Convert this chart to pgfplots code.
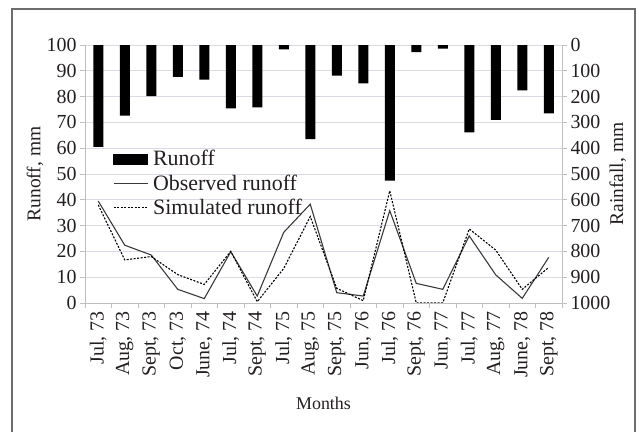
\documentclass[border=0pt]{standalone}
\usepackage{fontspec}
\setmainfont{Liberation Serif}
\usepackage{pgfplots}
\usepackage{pgfplotstable}
\pgfplotsset{compat=1.18}

\definecolor{txt}{HTML}{231F20}
\definecolor{gridc}{HTML}{D9DCE3}
\definecolor{axc}{HTML}{BFBFBF}
\definecolor{framec}{HTML}{6D6D6D}
\definecolor{obsc}{HTML}{3A3A3A}

% rainfall (mm), observed and simulated runoff (mm) per month
\pgfplotstableread{
idx rain obs  sim
0   395  39.5 38.0
1   274  22.4 16.7
2   198  18.6 18.0
3   124  5.3  11.0
4   134  1.7  7.2
5   246  19.9 20.0
6   242  2.7  0.5
7   17   27.4 13.4
8   365  38.3 33.5
9   119  4.0  5.7
10  149  2.7  0.9
11  526  35.8 43.5
12  28   7.6  0.0
13  14   5.3  0.0
14  339  26.0 28.7
15  290  10.9 20.5
16  176  1.8  5.3
17  265  17.7 13.8
}\datatable

\pgfplotsset{
  common/.style={
    scale only axis, width=477bp, height=258bp,
    at={(85bp,129bp)}, anchor=south west,
    xmin=-0.5, xmax=17.5,
    /pgf/number format/assume math mode=true,
    /pgf/number format/1000 sep={},
    tick label style={text=txt, font=\fontsize{20}{22}\selectfont},
    label style={text=txt, font=\fontsize{19.5}{21}\selectfont},
    axis line style={axc, line width=0.8bp},
    tick style={axc, line width=0.8bp},
    tick align=outside,
    major tick length=5bp,
  },
}

\begin{document}
\begin{tikzpicture}
\useasboundingbox (0,0) rectangle (639bp,432bp);
\draw[framec, line width=1.4bp] (12bp,-5bp) -- (12bp,423bp) -- (635bp,423bp) -- (635bp,-5bp);

% runoff lines, left axis
\begin{axis}[common,
  axis x line*=bottom, axis y line*=left,
  ymin=0, ymax=100, ytick={0,10,...,100},
  ymajorgrids, grid style={gridc, line width=0.8bp},
  xtick={0,...,17},
  xticklabels={{Jul, 73},{Aug, 73},{Sept, 73},{Oct, 73},{June, 74},{Jul, 74},{Sept, 74},{Jul, 75},{Aug, 75},{Sept, 75},{Jun, 76},{Jul, 76},{Sept, 76},{Jun, 77},{Jul, 77},{Aug, 77},{June, 78},{Sept, 78}},
  x tick label style={rotate=90, anchor=east},
  major x tick style={draw=none},
  minor xtick={-0.5,0.5,...,17.5},
  minor tick length=5bp,
  ylabel={Runoff, mm},
  ylabel style={at={(axis description cs:-0.105,0.5)}, anchor=center},
  xlabel={Months},
  xlabel style={at={(axis description cs:0.5,-0.39)}, anchor=center,
    font=\fontsize{18}{20}\selectfont},
  legend style={draw=none, fill=none, at={(axis description cs:0.058,0.6)},
    anchor=north west, text=txt, row sep=3.5bp, inner sep=0bp,
    font=\fontsize{22}{24}\selectfont},
  legend cell align=left,
]
\addlegendimage{legend image code/.code={\fill[black] (0bp,-5bp) rectangle (34bp,5bp); \path (37bp,0bp);}}
\addlegendentry{Runoff}
\addplot[obsc, line width=1.1bp,
  legend image code/.code={\draw[obsc, line width=1.4bp] (0bp,0bp) -- (34bp,0bp); \path (37bp,0bp);}]
  table[x=idx, y=obs] {\datatable};
\addlegendentry{Observed runoff}
\addplot[black, line width=1.1bp, dash pattern=on 2bp off 1.5bp,
  legend image code/.code={\draw[black, line width=1.4bp, dash pattern=on 2bp off 1.5bp] (0bp,0bp) -- (34bp,0bp); \path (37bp,0bp);}]
  table[x=idx, y=sim] {\datatable};
\addlegendentry{Simulated runoff}
\end{axis}

% rainfall bars hanging from the top, right axis
\begin{axis}[common,
  axis x line=none, axis y line*=right,
  y dir=reverse,
  ymin=0, ymax=1000, ytick={0,100,...,1000},
  ylabel={Rainfall, mm},
  ylabel style={at={(axis description cs:1.117,0.5)}, anchor=center, rotate=0},
  ybar, bar width=10bp,
]
\addplot[fill=black, draw=none] table[x=idx, y=rain] {\datatable};
\end{axis}
\end{tikzpicture}
\end{document}
